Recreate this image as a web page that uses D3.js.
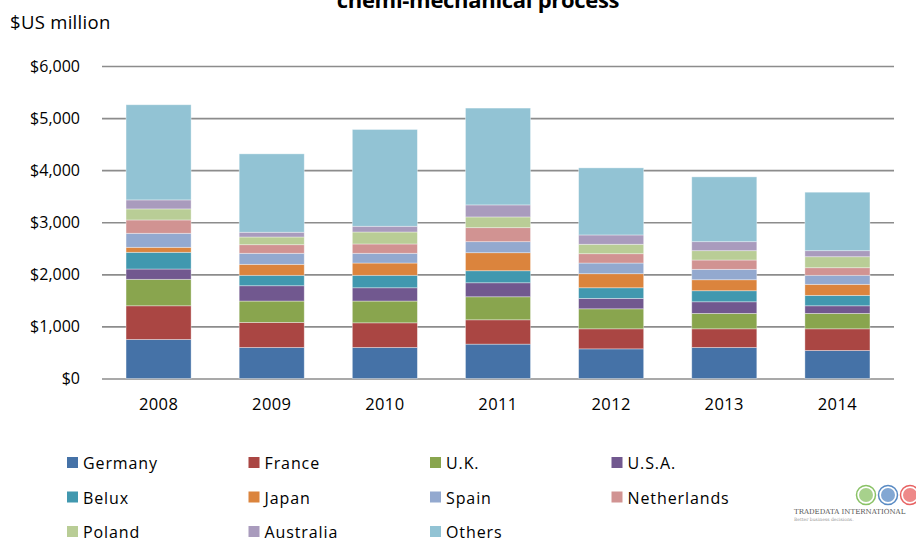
<!DOCTYPE html>
<html>
<head>
<meta charset="utf-8">
<script src="https://cdn.jsdelivr.net/npm/d3@7.9.0/dist/d3.min.js"></script>
<style>
  body { margin: 0; background: #fff; }
  svg { display: block; font-family: 'Open Sans', sans-serif; }
</style>
</head>
<body>
<svg id="chart" width="916" height="540"></svg>
<script>
const years = ['2008', '2009', '2010', '2011', '2012', '2013', '2014'];
const countries = ['Germany', 'France', 'U.K.', 'U.S.A.', 'Belux', 'Japan', 'Spain', 'Netherlands', 'Poland', 'Australia', 'Others'];
const colorList = ['#4572A7', '#AA4643', '#89A54E', '#71588F', '#4198AF', '#DB843D', '#93A9CF', '#D19392', '#B9CD96', '#A99BBD', '#92C3D4'];

// $US million, per year
const germany     = [750, 596, 596, 660, 569, 596, 538];
const france      = [646, 481, 473, 467, 385, 358, 416];
const uk          = [508, 410, 418, 442, 384, 296, 296];
const usa         = [198, 294, 255, 269, 200, 223, 146];
const belux       = [321, 200, 239, 231, 204, 212, 200];
const japan       = [96, 211, 236, 346, 270, 211, 212];
const spain       = [269, 212, 187, 212, 205, 200, 173];
const netherlands = [256, 165, 179, 269, 179, 179, 146];
const poland      = [212, 148, 230, 206, 181, 179, 211];
const australia   = [173, 91, 110, 231, 179, 173, 116];
const others      = [1827, 1505, 1858, 1859, 1288, 1244, 1123];

const series = [germany, france, uk, usa, belux, japan, spain, netherlands, poland, australia, others];
const yTicks = [0, 1000, 2000, 3000, 4000, 5000, 6000];

const rows = years.map((yr, i) => {
  const r = { year: yr };
  countries.forEach((c, k) => { r[c] = series[k][i]; });
  return r;
});

const svg = d3.select('#chart');
const color = d3.scaleOrdinal(countries, colorList);

const x = d3.scaleBand().domain(years).range([102, 894]).paddingInner(0.425).paddingOuter(0.2125);
const y = d3.scaleLinear().domain([0, 6000]).range([378.5, 66]);

// title (first line falls outside the picture)
svg.append('text')
  .attr('x', 478).attr('y', 8)
  .attr('text-anchor', 'middle')
  .attr('font-size', 22).attr('font-weight', 'bold')
  .attr('letter-spacing', -0.3)
  .attr('fill', '#000')
  .text('chemi-mechanical process');

svg.append('text')
  .attr('x', 10).attr('y', 29)
  .attr('font-size', 18.5)
  .attr('letter-spacing', 0.3)
  .attr('fill', '#000')
  .text('$US million');

// gridlines + y labels
const yAxis = svg.append('g')
  .attr('transform', 'translate(102,0)')
  .call(d3.axisLeft(y).tickValues(yTicks).tickSize(-792).tickPadding(22)
    .tickFormat(d => '$' + d3.format(',')(d)));
yAxis.select('.domain').remove();
yAxis.selectAll('line').attr('stroke', '#8c8c8c').attr('stroke-width', 1.6);
yAxis.selectAll('text').attr('font-size', 16).attr('fill', '#000')
  .attr('font-family', "'Open Sans', sans-serif");

// stacked bars
const stacked = d3.stack().keys(countries)(rows);
svg.append('g').selectAll('g')
  .data(stacked)
  .join('g')
  .attr('fill', d => color(d.key))
  .selectAll('rect')
  .data(d => d)
  .join('rect')
  .attr('x', d => x(d.data.year))
  .attr('width', x.bandwidth())
  .attr('y', d => y(d[1]))
  .attr('height', d => y(d[0]) - y(d[1]))
  .attr('stroke', 'rgba(255,255,255,0.45)')
  .attr('stroke-width', 0.8);

// x labels
const xAxis = svg.append('g')
  .attr('transform', 'translate(0,378.5)')
  .call(d3.axisBottom(x).tickSize(0).tickPadding(20));
xAxis.select('.domain').remove();
xAxis.selectAll('text').attr('font-size', 16.5).attr('letter-spacing', 0.4).attr('fill', '#000')
  .attr('font-family', "'Open Sans', sans-serif");

// legend
const legend = svg.append('g');
countries.forEach((c, i) => {
  const col = i % 4, row = Math.floor(i / 4);
  const gx = 67 + col * 181.5, gy = 457 + row * 34.5;
  legend.append('rect')
    .attr('x', gx).attr('y', gy).attr('width', 11).attr('height', 11)
    .attr('fill', color(c));
  legend.append('text')
    .attr('x', gx + 16).attr('y', gy + 12)
    .attr('font-size', 16).attr('letter-spacing', 0.9)
    .attr('fill', '#000')
    .text(c);
});

// TradeData logo
const logo = svg.append('g');
[['#6cb33f', 866], ['#2f6db5', 888], ['#e23b3b', 910]].forEach(([fill, cx]) => {
  logo.append('circle').attr('cx', cx).attr('cy', 495).attr('r', 9.5)
    .attr('fill', '#fff').attr('stroke', fill).attr('stroke-width', 1.5).attr('opacity', 0.8);
  logo.append('circle').attr('cx', cx).attr('cy', 495).attr('r', 7).attr('fill', fill).attr('opacity', 0.6);
});
logo.append('text').attr('x', 794).attr('y', 514)
  .attr('font-size', 7).attr('font-family', "'DejaVu Serif', serif").attr('fill', '#555')
  .text('TRADEDATA INTERNATIONAL');
logo.append('text').attr('x', 794).attr('y', 521)
  .attr('font-size', 4.5).attr('font-family', "'DejaVu Serif', serif").attr('fill', '#999')
  .text('Better business decisions.');
</script>
</body>
</html>
